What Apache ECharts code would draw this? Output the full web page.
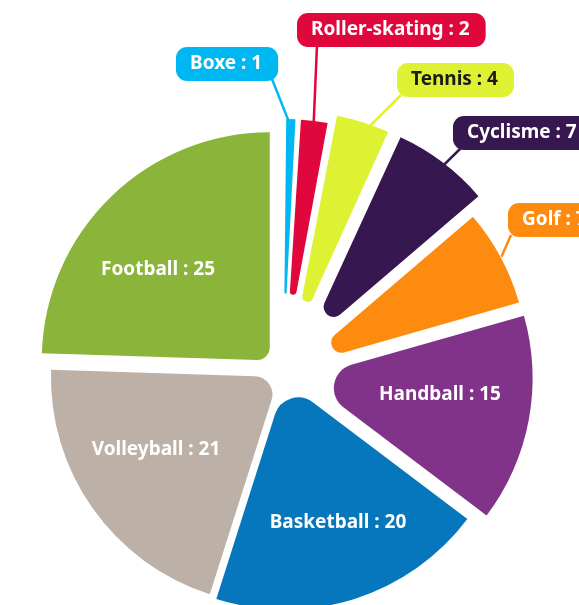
<!DOCTYPE html>
<html>
<head>
<meta charset="utf-8">
<script src="https://cdn.jsdelivr.net/npm/echarts@6/dist/echarts.min.js"></script>
<style>
  html, body { margin: 0; padding: 0; background: #fff; }
  #chart { width: 579px; height: 605px; }
</style>
</head>
<body>
<div id="chart"></div>
<script>
// sports et nombre de réponses
const sports = ["Boxe", "Roller-skating", "Tennis", "Cyclisme", "Golf", "Handball", "Basketball", "Volleyball", "Football"];
const values = [1, 2, 4, 7, 7, 15, 20, 21, 25];
const colors = ["#00b8f1", "#e0073d", "#def233", "#36174f", "#fd8b0f", "#813389", "#0777bd", "#bdb0a7", "#8bb43a"];

// mise en forme de chaque part : décalage vers l'extérieur, espacement (degrés), arrondi de la pointe
const explode = [27, 27, 36, 37, 19, 22, 8, 5, 19];
const pad = [1.2, 0.3, 0.6, 0, 0, 0, 0, 0, 0];
const tipRound = [1.1, 3.3, 5.3, 10, 10, 24, 24, 18, 12];

const pieCenter = [283, 374];
const pieRadius = 228;

// étiquettes à l'extérieur : bord gauche, milieu de la boîte, point d'attache du trait
const outsideLabels = {
  "Boxe": [176, 64, 96],
  "Roller-skating": [297, 30, 20],
  "Tennis": [397, 80, 4],
  "Cyclisme": [453, 133, 8],
  "Golf": [508, 220, 3]
};
// étiquettes à l'intérieur (grandes parts) : centre du texte
const insideLabels = {
  "Handball": [440, 395],
  "Basketball": [338, 523],
  "Volleyball": [156, 450],
  "Football": [158, 270]
};

const labelFont = "Noto Sans";
const total = values.reduce((a, b) => a + b, 0);

const chart = echarts.init(document.getElementById("chart"));

// une série par part : même découpage, seule la part i est visible
const sliceSeries = sports.map((sport, i) => {
  // rayon intérieur choisi pour que l'arrondi ferme la pointe
  const half = ((values[i] / total) * 360 - pad[i]) / 2 * Math.PI / 180;
  const r0 = tipRound[i] * (1 / Math.sin(half) - 1) + 0.3;
  return {
    type: "pie",
    center: pieCenter,
    radius: [r0, pieRadius],
    startAngle: 90,
    clockwise: true,
    padAngle: pad[i],
    selectedMode: "multiple",
    selectedOffset: explode[i],
    silent: true,
    emphasis: { disabled: true },
    itemStyle: { borderRadius: [tipRound[i], 0] },
    label: { show: false },
    labelLine: { show: false },
    data: sports.map((name, j) => ({
      name: name,
      value: values[j],
      selected: j === i,
      itemStyle: { color: j === i ? colors[j] : "rgba(0,0,0,0)" }
    }))
  };
});

// série transparente qui porte les étiquettes
const labelSeries = {
  type: "pie",
  center: pieCenter,
  radius: [0, pieRadius + 20],
  startAngle: 90,
  clockwise: true,
  silent: true,
  avoidLabelOverlap: false,
  emphasis: { disabled: true },
  label: {
    show: true,
    formatter: "{b} : {c}",
    fontFamily: labelFont,
    fontWeight: "bold",
    fontSize: 19,
    lineHeight: 21
  },
  labelLine: { length: 20, length2: 0 },
  labelLayout: function (params) {
    const name = sports[params.dataIndex];
    const p = outsideLabels[name];
    if (p) {
      const from = params.labelLinePoints ? params.labelLinePoints[0] : null;
      const res = { x: p[0], y: p[1], align: "left", verticalAlign: "middle" };
      if (from) {
        res.labelLinePoints = [from, [p[0] + p[2], p[1] + 15]];
      }
      return res;
    }
    const q = insideLabels[name];
    return { x: q[0], y: q[1], align: "center", verticalAlign: "middle" };
  },
  data: sports.map((name, i) => {
    const outside = outsideLabels[name] !== undefined;
    return {
      name: name,
      value: values[i],
      itemStyle: { color: "rgba(0,0,0,0)" },
      label: outside ? {
        position: "outside",
        backgroundColor: colors[i],
        color: name === "Tennis" ? "#1b1b1b" : "#fff",
        borderRadius: 11,
        padding: [7, 16, 6, 14]
      } : {
        position: "inside",
        color: "#fff"
      },
      labelLine: {
        show: outside,
        lineStyle: { color: colors[i], width: 2.5 }
      }
    };
  })
};

chart.setOption({
  animation: false,
  series: sliceSeries.concat([labelSeries])
});
</script>
</body>
</html>
